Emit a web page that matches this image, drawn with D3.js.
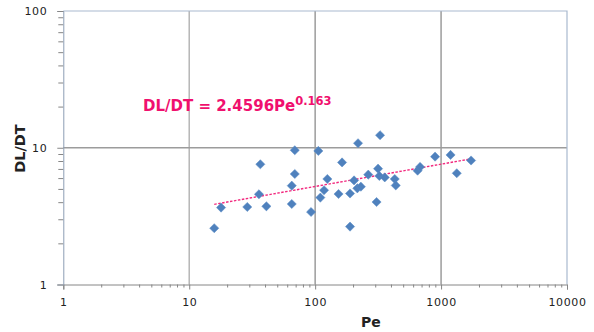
<!DOCTYPE html>
<html>
<head>
<meta charset="utf-8">
<script src="https://cdn.jsdelivr.net/npm/d3@7"></script>
<style>
    body { margin: 0; background: #fff; }
    svg { display: block; }
    .tick text { font-family: "DejaVu Sans", Verdana, sans-serif; font-size: 11px; letter-spacing: 0.6px; fill: #222; }
    .label { font-family: "DejaVu Sans", Verdana, sans-serif; font-weight: bold; fill: #222; }
</style>
</head>
<body>
<svg width="594" height="332"></svg>
<script>
// Pe values
var pe = [15.8, 17.9, 28.9, 36.7, 35.8, 41.0, 68.9, 68.9, 65.2, 65.2,
    92.8, 106, 110, 117.7, 125, 153.4, 163.6, 189.3, 189.3, 203.7,
    219.1, 216.3, 230.7, 264.1, 307.4, 315.9, 327.7, 323.5, 357.1, 428.7,
    436.7, 650.8, 681.2, 896.2, 1189.6, 1332.5, 1731.1]

// DL/DT values
var dldt = [2.58, 3.65, 3.69, 7.57, 4.57, 3.73, 9.59, 6.43, 5.28, 3.88,
    3.39, 9.48, 4.32, 4.89, 5.91, 4.59, 7.81, 2.65, 4.63, 5.77,
    10.79, 5.05, 5.19, 6.36, 4.01, 7.03, 12.35, 6.22, 6.07, 5.91,
    5.30, 6.80, 7.24, 8.61, 8.86, 6.51, 8.07]

// power trendline  DL/DT = a * Pe^b
var trend_a = 2.4596
var trend_b = 0.163

var x_ticks = [1, 10, 100, 1000, 10000]
var y_ticks = [1, 10, 100]
var x_grid = [10, 100, 1000]
var y_grid = [10]

function minor_ticks(lo, hi) {
    var out = []
    for (var dec = lo; dec < hi; dec *= 10) {
        for (var k = 2; k <= 9; k++) out.push(dec * k)
    }
    return out
}

var svg = d3.select("svg")
var plot_left = 63.3, plot_right = 567, plot_top = 11, plot_bottom = 284.5

var x_scale = d3.scaleLog().domain([1, 10000]).range([plot_left, plot_right])
var y_scale = d3.scaleLog().domain([1, 100]).range([plot_bottom, plot_top])

// gridlines
svg.append("g").selectAll("line")
    .data(x_grid)
    .enter().append("line")
    .attr("x1", function (d) { return x_scale(d) })
    .attr("x2", function (d) { return x_scale(d) })
    .attr("y1", plot_top)
    .attr("y2", plot_bottom)
    .attr("stroke", function (d) { return d == 10 ? "#b6b6b6" : "#9c9c9c" })
    .attr("stroke-width", 1.5)

svg.append("g").selectAll("line")
    .data(y_grid)
    .enter().append("line")
    .attr("x1", plot_left)
    .attr("x2", plot_right)
    .attr("y1", function (d) { return y_scale(d) })
    .attr("y2", function (d) { return y_scale(d) })
    .attr("stroke", "#9c9c9c")
    .attr("stroke-width", 1.5)

// plot border top / right
svg.append("path")
    .attr("d", "M" + plot_left + "," + plot_top + "H" + plot_right + "V" + plot_bottom)
    .attr("fill", "none")
    .attr("stroke", "#a9b9cf")
    .attr("stroke-width", 1.2)

// x axis
var gx = svg.append("g").attr("transform", "translate(0," + plot_bottom + ")")
gx.call(d3.axisBottom(x_scale).tickValues(minor_ticks(1, 10000)).tickSize(3).tickFormat(""))
gx.select(".domain").remove()
var gx2 = svg.append("g").attr("transform", "translate(0," + plot_bottom + ")")
    .call(d3.axisBottom(x_scale).tickValues(x_ticks).tickSize(5).tickPadding(8.5).tickFormat(d3.format("d")))
gx2.select(".domain").attr("stroke", "#868686")

// y axis
var gy = svg.append("g").attr("transform", "translate(" + plot_left + ",0)")
gy.call(d3.axisLeft(y_scale).tickValues(minor_ticks(1, 100)).tickSize(5).tickFormat(""))
gy.select(".domain").remove()
var gy2 = svg.append("g").attr("transform", "translate(" + plot_left + ",0)")
    .call(d3.axisLeft(y_scale).tickValues(y_ticks).tickSize(6).tickPadding(10).tickFormat(d3.format("d")))
gy2.select(".domain").attr("stroke", "#8c9db4")
svg.selectAll("g .tick line").attr("stroke", "#868686")

// trendline over the data range
var trend_x = d3.extent(pe)
var trend_line = d3.line()
    .x(function (d) { return x_scale(d) })
    .y(function (d) { return y_scale(trend_a * Math.pow(d, trend_b)) })
svg.append("path")
    .datum(trend_x)
    .attr("d", trend_line)
    .attr("fill", "none")
    .attr("stroke", "#f22a7f")
    .attr("stroke-width", 1.4)
    .attr("stroke-dasharray", "2.5,1.5")

// markers
var points = pe.map(function (v, i) { return { pe: v, dl: dldt[i] } })
svg.append("g").selectAll("path")
    .data(points)
    .enter().append("path")
    .attr("d", d3.symbol().type(d3.symbolSquare).size(42))
    .attr("transform", function (d) {
        return "translate(" + x_scale(d.pe) + "," + y_scale(d.dl) + ") rotate(45)"
    })
    .attr("fill", "#4f81bd")
    .attr("stroke", "#5b8cc6")
    .attr("stroke-width", 0.5)

// equation label
var eq = svg.append("text")
    .attr("class", "label")
    .attr("x", 143)
    .attr("y", 111)
    .style("font-size", "15px")
    .style("fill", "#f0106e")
eq.append("tspan").text("DL/DT = 2.4596Pe")
eq.append("tspan").attr("dy", -6).style("font-size", "11.5px").text("0.163")

// axis titles
svg.append("text")
    .attr("class", "label")
    .attr("x", 371)
    .attr("y", 327)
    .attr("text-anchor", "middle")
    .style("font-size", "14px")
    .text("Pe")

svg.append("text")
    .attr("class", "label")
    .attr("transform", "translate(25,148.5) rotate(-90)")
    .attr("text-anchor", "middle")
    .style("font-size", "14.5px")
    .text("DL/DT")
</script>
</body>
</html>
